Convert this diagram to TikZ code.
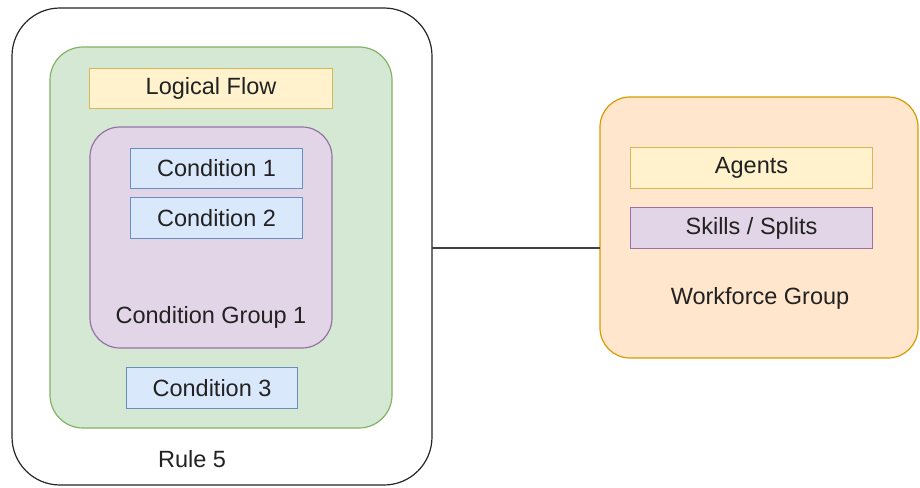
\documentclass[tikz,border=0pt]{standalone}
\usepackage{fontspec}
\setmainfont{Liberation Sans}
\definecolor{yfill}{HTML}{FFF2CC}\definecolor{ydraw}{HTML}{D6B656}
\definecolor{bfill}{HTML}{DAE8FC}\definecolor{bdraw}{HTML}{6C8EBF}
\definecolor{gfill}{HTML}{D5E8D4}\definecolor{gdraw}{HTML}{82B366}
\definecolor{pfill}{HTML}{E1D5E7}\definecolor{pdraw}{HTML}{9673A6}
\definecolor{ofill}{HTML}{FFE6CC}\definecolor{odraw}{HTML}{D79B00}
\definecolor{txt}{HTML}{222222}
\begin{document}
\begin{tikzpicture}[x=1pt,y=-1pt,
  every node/.style={font=\fontsize{23.5}{28}\selectfont, text=txt},
  container/.style={draw, line width=1.2pt},
  item/.style={draw, line width=1.1pt, inner sep=0pt, anchor=north west},
  lbl/.style={inner sep=0pt}]
\useasboundingbox (0,0) rectangle (920,487);
% outer rule box
\draw[container, draw=black!85, fill=white, rounded corners=48pt] (12,8) rectangle (432,485);
\coordinate (ruleE) at (432,248);
% green
\draw[container, draw=gdraw, fill=gfill, rounded corners=33pt] (50,47) rectangle (392,428);
% purple group
\draw[container, draw=pdraw, fill=pfill, rounded corners=30pt] (90,127) rectangle (332,348);
% orange
\draw[container, draw=odraw, fill=ofill, rounded corners=30pt] (600,97) rectangle (918,358);
\coordinate (wfW) at (600,248);
% items
\node[item, draw=ydraw, fill=yfill, minimum width=243pt, minimum height=40pt] (lf) at (89,68) {Logical Flow};
\node[item, draw=bdraw, fill=bfill, minimum width=172pt, minimum height=40pt] (c1) at (130,148) {Condition 1};
\node[item, draw=bdraw, fill=bfill, minimum width=172pt, minimum height=41pt] (c2) at (130,197) {Condition 2};
\node[item, draw=bdraw, fill=bfill, minimum width=171pt, minimum height=41pt] (c3) at (126,367) {Condition 3};
\node[item, draw=ydraw, fill=yfill, minimum width=242pt, minimum height=41pt] (ag) at (630,147) {Agents};
\node[item, draw=pdraw, fill=pfill, minimum width=242pt, minimum height=41pt] (sk) at (630,207) {Skills / Splits};
% labels
\node[lbl] (cg) at (211,317) {Condition Group 1};
\node[lbl] (r5) at (192,459) {Rule 5};
\node[lbl] (wg) at (760,298) {Workforce Group};
% connector
\draw[line width=1.2pt, draw=black!75] (ruleE) -- (wfW);
\end{tikzpicture}
\end{document}
